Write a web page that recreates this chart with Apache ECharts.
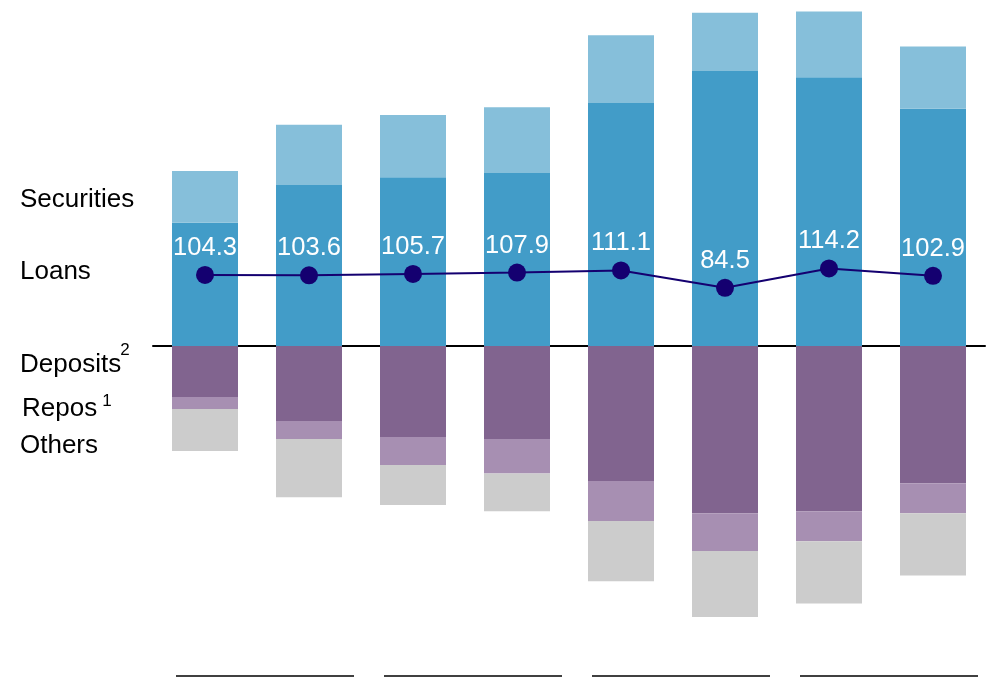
<!DOCTYPE html>
<html>
<head>
<meta charset="utf-8">
<script src="https://cdn.jsdelivr.net/npm/echarts@6/dist/echarts.min.js"></script>
<style>
html,body{margin:0;padding:0;background:#fff;}
#chart{width:989px;height:677px;}
</style>
</head>
<body>
<div id="chart"></div>
<script>
var categories = ['P1', 'P2', 'P3', 'P4', 'P5', 'P6', 'P7', 'P8'];
var loans      = [176, 230, 241, 247, 347, 393, 384, 339];
var securities = [74, 86, 89, 94, 97, 83, 94, 89];
var deposits   = [-73, -107, -130, -133, -193, -239, -236, -196];
var repos      = [-17, -26, -40, -49, -57, -54, -43, -43];
var others     = [-60, -83, -57, -54, -86, -94, -89, -89];
var ratio      = [104.3, 103.6, 105.7, 107.9, 111.1, 84.5, 114.2, 102.9];
var groups     = [[0, 1], [2, 3], [4, 5], [6, 7]];
var legendNames = ['Securities', 'Loans', 'Deposits', 'Repos', 'Others'];
var legendSups  = ['', '', '2', '1', ''];

var FONT = '"Liberation Sans", Arial, sans-serif';
var chart = echarts.init(document.getElementById('chart'), null, {renderer: 'canvas'});

function bar(name, data, color) {
  return {
    name: name, type: 'bar', stack: 'total', data: data, barWidth: 66,
    itemStyle: {color: color}, silent: true
  };
}

chart.setOption({
  animation: false,
  backgroundColor: '#fff',
  grid: {left: 153, right: 4, top: 3, bottom: 23},
  xAxis: {
    type: 'category', data: categories,
    axisLine: {show: true, onZero: true, lineStyle: {color: '#000', width: 2}},
    axisTick: {show: false}, axisLabel: {show: false}, splitLine: {show: false}
  },
  yAxis: [
    {type: 'value', min: -440, max: 490, show: false, splitLine: {show: false}},
    {type: 'value', min: -476.3, max: 520.7, show: false, splitLine: {show: false}}
  ],
  series: [
    bar('Loans', loans, '#429CC8'),
    bar('Securities', securities, '#86BFDA'),
    bar('Deposits', deposits, '#81648F'),
    bar('Repos', repos, '#A78FB2'),
    bar('Others', others, '#CCCCCC'),
    {
      name: 'Ratio', type: 'line', yAxisIndex: 1, data: ratio,
      symbol: 'circle', symbolSize: 18,
      lineStyle: {color: '#140070', width: 2},
      itemStyle: {color: '#140070'},
      label: {
        show: true, position: 'top', distance: 5,
        color: '#fff', fontSize: 25.5, fontFamily: FONT,
        formatter: function (p) { return p.value.toFixed(1); }
      },
      z: 10
    }
  ]
});

var legendY = [200, 272, 365, 409, 446];
var legendX = [20, 20, 20, 22, 20];
var supY    = [0, 0, 350, 401, 0];
var supGap  = [0, 0, -1, 5, 0];
var graphics = [];
legendNames.forEach(function (n, i) {
  graphics.push({
    type: 'text', x: legendX[i], y: legendY[i],
    style: {
      text: n, fontSize: 26, fontFamily: FONT, fill: '#000',
      verticalAlign: 'middle', align: 'left'
    }
  });
  var sup = legendSups[i];
  if (sup) {
    var w = echarts.format.getTextRect ? echarts.format.getTextRect(n, '26px ' + FONT).width : n.length * 13;
    graphics.push({
      type: 'text', x: legendX[i] + w + supGap[i], y: supY[i],
      style: {text: sup, fontSize: 17, fontFamily: FONT, fill: '#000', verticalAlign: 'middle', align: 'left'}
    });
  }
});
var yLine = 676;
groups.forEach(function (g) {
  var x1 = chart.convertToPixel({xAxisIndex: 0}, g[0]) - 29;
  var x2 = chart.convertToPixel({xAxisIndex: 0}, g[1]) + 45;
  graphics.push({
    type: 'line', shape: {x1: x1, y1: yLine, x2: x2, y2: yLine},
    style: {stroke: '#000', lineWidth: 1.5}
  });
});
chart.setOption({graphic: graphics});
</script>
</body>
</html>
